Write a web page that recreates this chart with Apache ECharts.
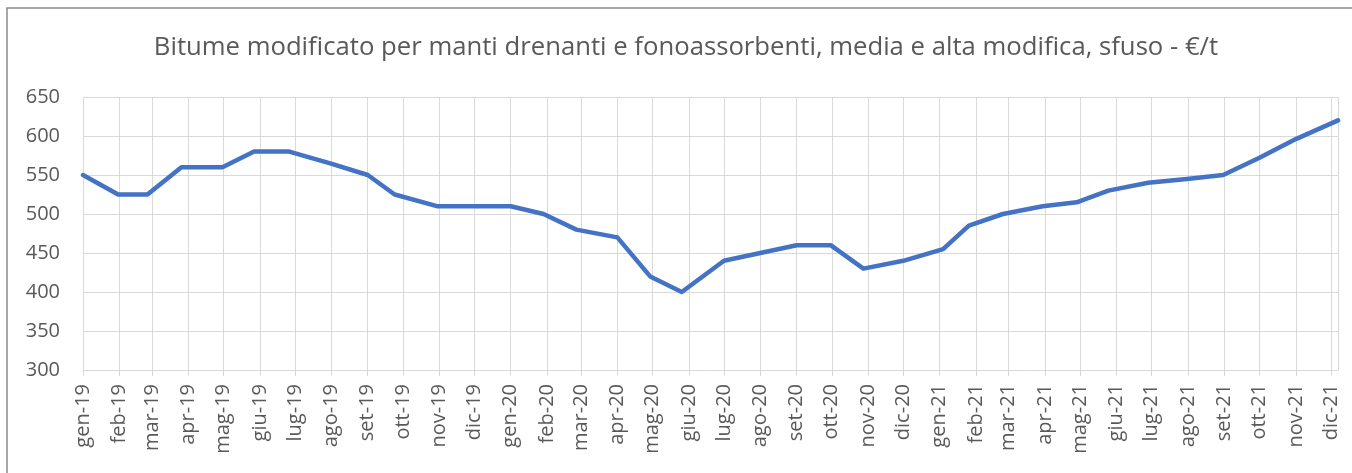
<!DOCTYPE html>
<html>
<head>
<meta charset="utf-8">
<script src="https://cdn.jsdelivr.net/npm/echarts@6/dist/echarts.min.js"></script>
<style>
html,body{margin:0;padding:0;background:#fff;}
#chart{width:1352px;height:473px;}
</style>
</head>
<body>
<div id="chart"></div>
<script>
// Data
const dates = ['2019-01-01','2019-01-31','2019-02-25','2019-03-26','2019-04-30','2019-05-27','2019-06-26','2019-07-31','2019-09-01','2019-09-24','2019-10-30','2019-12-01',
               '2020-01-01','2020-01-29','2020-02-26','2020-04-01','2020-04-29','2020-05-26','2020-07-01','2020-08-01','2020-09-01','2020-09-30','2020-10-28','2020-12-01',
               '2021-01-04','2021-01-26','2021-02-24','2021-03-30','2021-04-28','2021-05-25','2021-06-28','2021-07-31','2021-08-31','2021-10-01','2021-11-01','2021-12-07'];
const prices = [550,525,525,560,560,580,580,565,550,525,510,510,
                510,500,480,470,420,400,440,450,460,460,430,440,
                455,485,500,510,515,530,540,545,550,572,596,620];
const monthNames = ['gen','feb','mar','apr','mag','giu','lug','ago','set','ott','nov','dic'];
const yTicks = {min: 300, max: 650, step: 50};
const titleText = 'Bitume modificato per manti drenanti e fonoassorbenti, media e alta modifica, sfuso - €/t';

const chart = echarts.init(document.getElementById('chart'));
const DAY = 86400000;
const seriesData = dates.map((d, i) => [d, prices[i]]);
const font = '"Open Sans", "Noto Sans", sans-serif';

chart.setOption({
  animation: false,
  backgroundColor: '#ffffff',
  title: {
    text: titleText,
    left: 686,
    textAlign: 'center',
    top: 35,
    padding: 0,
    textStyle: {fontFamily: font, fontSize: 25.7, fontWeight: 'normal', color: '#595959'}
  },
  graphic: [{
    type: 'rect',
    silent: true,
    shape: {x: 7, y: 8, width: 1400, height: 520},
    style: {fill: 'none', stroke: '#8c8c8c', lineWidth: 1.5}
  }],
  grid: {left: 83, right: 14, top: 97, bottom: 103},
  xAxis: {
    type: 'time',
    min: dates[0],
    max: dates[dates.length - 1],
    minInterval: 28 * DAY,
    maxInterval: 31 * DAY,
    splitNumber: 40,
    axisLine: {show: true, lineStyle: {color: '#d9d9d9', width: 1}},
    axisTick: {show: true, length: 6, lineStyle: {color: '#d9d9d9', width: 1}},
    splitLine: {show: true, lineStyle: {color: '#d9d9d9', width: 1}},
    axisLabel: {
      rotate: 90,
      margin: 14,
      fontFamily: font,
      fontSize: 20,
      color: '#595959',
      formatter: function (val) {
        const d = new Date(val);
        if (d.getDate() !== 1) return '';
        return monthNames[d.getMonth()] + '-' + String(d.getFullYear()).slice(2);
      }
    }
  },
  yAxis: {
    type: 'value',
    min: yTicks.min,
    max: yTicks.max,
    interval: yTicks.step,
    axisLine: {show: false},
    axisTick: {show: false},
    splitLine: {show: true, lineStyle: {color: '#d9d9d9', width: 1}},
    axisLabel: {margin: 23, fontFamily: font, fontSize: 20, color: '#595959'}
  },
  series: [{
    type: 'line',
    data: seriesData,
    symbol: 'none',
    smooth: false,
    lineStyle: {color: '#4472C4', width: 4.5, cap: 'round', join: 'round'}
  }]
});
</script>
</body>
</html>
